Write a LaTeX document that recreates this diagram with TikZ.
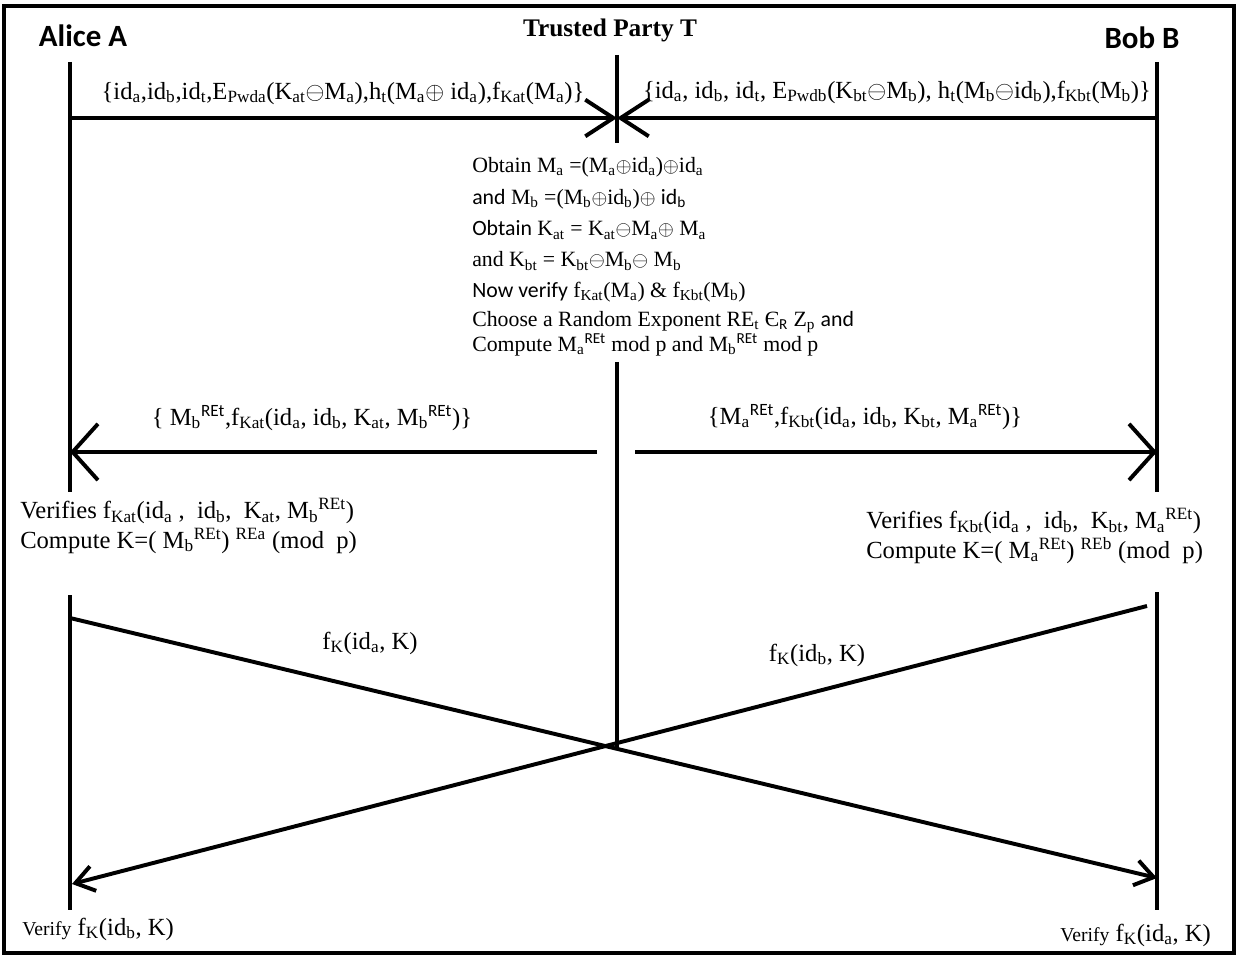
\documentclass[tikz,border=0pt]{standalone}
\usepackage{fontspec}
\setmainfont{Liberation Serif}
\newfontfamily\calfnt{Carlito}
\usetikzlibrary{arrows.meta,positioning}
\newcommand{\sbt}[1]{\textsubscript{#1}}
\newcommand{\spt}[1]{\textsuperscript{\calfnt #1}}
\newcommand{\opl}{$\oplus$}
\newcommand{\omi}{$\ominus$}

\begin{document}
\begin{tikzpicture}[x=0.025cm,y=-0.025cm,
  life/.style={line width=2.8pt},
  msg/.style={line width=2.8pt},
  bigtip/.style={-{Straight Barb[length=18pt,width=40pt]}},
  smalltip/.style={-{Straight Barb[length=20pt,width=26pt]}},
  crosstip/.style={-{Straight Barb[length=13pt,width=18pt]}},
  lbl/.style={font=\fontsize{17.5}{21}\selectfont,inner sep=0pt},
  tline/.style={font=\fontsize{15.5}{18}\selectfont,inner sep=0pt,anchor=west},
  party/.style={font=\calfnt\bfseries\fontsize{22}{26}\selectfont,inner sep=0pt}
]
  \useasboundingbox (0,0) rectangle (1238,958);
  \draw[line width=3pt] (4,6) rectangle (1234,953);

  % parties
  \node[party] (alice) at (83,36) {Alice A};
  \node[party] (bob) at (1142,38) {Bob B};
  \node[font=\bfseries\fontsize{18}{21}\selectfont,inner sep=0pt] (trust) at (610,30) {Trusted Party T};

  % lifelines
  \coordinate (A0) at (70,62);   \coordinate (A1) at (70,492);
  \coordinate (A2) at (70,595);  \coordinate (A3) at (70,910);
  \coordinate (B0) at (1157,62); \coordinate (B1) at (1157,492);
  \coordinate (B2) at (1157,592);\coordinate (B3) at (1157,910);
  \coordinate (T0) at (617,55);  \coordinate (T1) at (617,143);
  \coordinate (T2) at (617,362); \coordinate (T3) at (617,748);
  \draw[life] (A0) -- (A1);
  \draw[life] (A2) -- (A3);
  \draw[life] (B0) -- (B1);
  \draw[life] (B2) -- (B3);
  \draw[line width=2.2pt] (T0) -- (T1);
  \draw[line width=2.2pt] (T2) -- (T3);

  % first round
  \coordinate (m1a) at (70,118);  \coordinate (m1t) at (617,118);
  \coordinate (m2b) at (1157,118);
  \draw[msg,smalltip] (m1a) -- (m1t);
  \draw[msg,smalltip] (m2b) -- (m1t);
  \node[lbl] (l1) at (343,93) {\{id\sbt{a},id\sbt{b},id\sbt{t},E\sbt{Pwda}(K\sbt{at}\omi M\sbt{a}),h\sbt{t}(M\sbt{a}\opl{} id\sbt{a}),f\sbt{Kat}(M\sbt{a})\}};
  \node[lbl] (l2) at (897,92) {\{id\sbt{a}, id\sbt{b}, id\sbt{t}, E\sbt{Pwdb}(K\sbt{bt}\omi M\sbt{b}), h\sbt{t}(M\sbt{b}\omi id\sbt{b}),f\sbt{Kbt}(M\sbt{b})\}};

  % trusted party work
  \node[tline] (t1) at (472,167) {Obtain M\sbt{a} =(M\sbt{a}\opl id\sbt{a})\opl id\sbt{a}};
  \node[tline] (t2) at (472,199) {{\calfnt and} M\sbt{b} =(M\sbt{b}\opl id\sbt{b})\opl{} {\calfnt id\sbt{b}}};
  \node[tline] (t3) at (472,230) {{\calfnt Obtain} K\sbt{at} = K\sbt{at}\omi M\sbt{a}\opl{} M\sbt{a}};
  \node[tline] (t4) at (472,261) {and K\sbt{bt} = K\sbt{bt}\omi M\sbt{b}\omi{} M\sbt{b}};
  \node[tline] (t5) at (472,292) {{\calfnt Now verify} f\sbt{Kat}(M\sbt{a}) \& f\sbt{Kbt}(M\sbt{b})};
  \node[tline] (t6) at (472,322) {Choose a Random Exponent RE\sbt{t} Є\sbt{\calfnt R} Z\sbt{p} {\calfnt and}};
  \node[tline] (t7) at (472,345) {Compute M\sbt{a}\spt{REt} mod p and M\sbt{b}\spt{REt} mod p};

  % second round
  \coordinate (m3t) at (597,452); \coordinate (m3a) at (70,452);
  \coordinate (m4t) at (635,452); \coordinate (m4b) at (1157,452);
  \draw[msg,bigtip] (m3t) -- (m3a);
  \draw[msg,bigtip] (m4t) -- (m4b);
  \node[lbl] (l3) at (312,418) {\{ M\sbt{b}\spt{REt},f\sbt{Kat}(id\sbt{a}, id\sbt{b}, K\sbt{at}, M\sbt{b}\spt{REt})\}};
  \node[lbl] (l4) at (865,417) {\{M\sbt{a}\spt{REt},f\sbt{Kbt}(id\sbt{a}, id\sbt{b}, K\sbt{bt}, M\sbt{a}\spt{REt})\}};

  \node[lbl,anchor=west,align=left] (va) at (20,526) {Verifies f\sbt{Kat}(id\sbt{a} ,\ \ id\sbt{b},\ \ K\sbt{at}, M\sbt{b}\textsuperscript{REt})\\
    Compute K=( M\sbt{b}\textsuperscript{REt}) \textsuperscript{REa} (mod\ \ p)};
  \node[lbl,anchor=west,align=left] (vb) at (866,536) {Verifies f\sbt{Kbt}(id\sbt{a} ,\ \ id\sbt{b},\ \ K\sbt{bt}, M\sbt{a}\textsuperscript{REt})\\
    Compute K=( M\sbt{a}\textsuperscript{REt}) \textsuperscript{REb} (mod\ \ p)};

  % key confirmation
  \coordinate (c1a) at (70,618);   \coordinate (c1b) at (1157,878);
  \coordinate (c2b) at (1147,606); \coordinate (c2a) at (72,884);
  \draw[msg,crosstip] (c1a) -- (c1b);
  \draw[msg,crosstip] (c2b) -- (c2a);
  \node[lbl] (k1) at (370,643) {f\sbt{K}(id\sbt{a}, K)};
  \node[lbl] (k2) at (817,655) {f\sbt{K}(id\sbt{b}, K)};

  \node[lbl,anchor=west] (fa) at (22,929) {{\fontsize{14}{16}\selectfont Verify} f\sbt{K}(id\sbt{b}, K)};
  \node[lbl,anchor=west] (fb) at (1060,935) {{\fontsize{14}{16}\selectfont Verify} f\sbt{K}(id\sbt{a}, K)};
\end{tikzpicture}
\end{document}
